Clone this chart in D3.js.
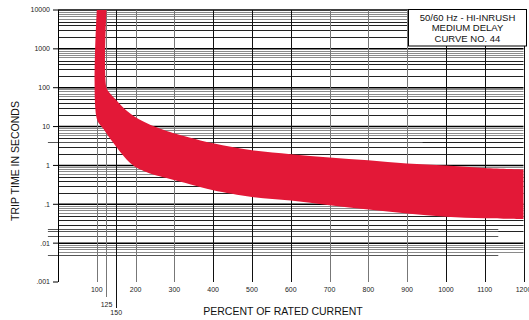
<!DOCTYPE html>
<html>
<head>
<title>Trip Curve 44</title>
<script src="https://d3js.org/d3.v7.min.js"></script>
<style>
  body { margin: 0; background: #fff; }
  svg { display: block; font-family: "Liberation Sans", Arial, sans-serif; }
</style>
</head>
<body>
<svg id="chart" width="529" height="320"></svg>
<script>
// ticks along the bottom (percent of rated current)
var xTicks = [100, 125, 150, 200, 300, 400, 500, 600, 700, 800, 900, 1000, 1100, 1200];
// decades on the left (seconds)
var yTicks = [10000, 1000, 100, 10, 1, 0.1, 0.01, 0.001];
var yTickLabels = ["10000", "1000", "100", "10", "1", ".1", ".01", ".001"];

// upper edge of the band = max trip time
var maxPct = [125, 125, 135, 147, 168, 194, 224, 254, 289, 319, 400, 500, 600, 700, 800, 900, 1000, 1100, 1200];
var maxSec = [10000, 100, 70, 52, 31, 19, 13, 9.6, 7.2, 5.9, 3.7, 2.45, 1.95, 1.6, 1.35, 1.12, 1.0, 0.86, 0.79];

// lower edge of the band = min trip time
var minPct = [100, 100, 117, 134, 151, 168, 186, 203, 229, 254, 289, 340, 400, 500, 600, 700, 800, 900, 1000, 1100, 1200];
var minSec = [10000, 16, 8.8, 4.9, 2.95, 1.8, 1.15, 0.87, 0.67, 0.55, 0.45, 0.33, 0.23, 0.155, 0.125, 0.095, 0.073, 0.058, 0.048, 0.044, 0.042];

// odd extra rules on the printed grid (value, from %, to %)
var extraRuleSec = [4, 0.023, 0.02, 0.015, 0.005];
var extraRuleFrom = [-26, -26, -26, -26, -26];
var extraRuleTo = [940, 1135, 1135, 1135, 1135];

var titleLines = ["50/60 Hz - HI-INRUSH", "MEDIUM DELAY", "CURVE NO. 44"];

var svg = d3.select("#chart");

var x = d3.scaleLinear().domain([0, 1200]).range([58, 523.5]);
var y = d3.scaleLog().domain([0.001, 10000]).range([282, 10]);

function isDecade(t) {
   var l = Math.log10(t);
   return Math.abs(l - Math.round(l)) < 1e-9;
}

// ==== horizontal grid ==== //
var minors = y.ticks().filter(function(t) { return t >= 0.0059 && t < 10000 && !isDecade(t); });

svg.append("g")
   .selectAll("line")
   .data(minors)
   .enter()
   .append("line")
   .attr("x1", x(0)).attr("x2", x(1200))
   .attr("y1", function(d) { return Math.round(y(d)) + 0.5; })
   .attr("y2", function(d) { return Math.round(y(d)) + 0.5; })
   .attr("stroke", function(d) {
      var m = Math.round(d / Math.pow(10, Math.floor(Math.log10(d) + 1e-9)));
      return m >= 6 ? "#8a8a8a" : "#222";
   })
   .attr("stroke-width", 1);

svg.append("g")
   .selectAll("line")
   .data(extraRuleSec)
   .enter()
   .append("line")
   .attr("x1", function(d, i) { return x(extraRuleFrom[i]); })
   .attr("x2", function(d, i) { return x(extraRuleTo[i]); })
   .attr("y1", function(d) { return Math.round(y(d)) + 0.5; })
   .attr("y2", function(d) { return Math.round(y(d)) + 0.5; })
   .attr("stroke", "#555")
   .attr("stroke-width", 1);

svg.append("g")
   .selectAll("line")
   .data(yTicks.filter(function(t) { return t > 0.001; }))
   .enter()
   .append("line")
   .attr("x1", x(0)).attr("x2", x(1200))
   .attr("y1", function(d) { return y(d); })
   .attr("y2", function(d) { return y(d); })
   .attr("stroke", "#000")
   .attr("stroke-width", 1.5);

// ==== vertical grid ==== //
var darkX = [150, 400, 500, 600, 1000, 1100, 1200];
var dropRow = {125: 1, 150: 2};

svg.append("g")
   .selectAll("line")
   .data(xTicks)
   .enter()
   .append("line")
   .attr("x1", function(d) { return Math.round(x(d)) + 0.5; })
   .attr("x2", function(d) { return Math.round(x(d)) + 0.5; })
   .attr("y1", y(10000))
   .attr("y2", function(d) { return y(0.001) + [0, 15, 26][dropRow[d] || 0]; })
   .attr("stroke", function(d) { return darkX.indexOf(d) >= 0 ? "#111" : "#777"; })
   .attr("stroke-width", 1);

svg.append("g")
   .selectAll("text")
   .data(xTicks)
   .enter()
   .append("text")
   .attr("x", function(d) { return x(d); })
   .attr("y", function(d) { return y(0.001) + [9.5, 24.5, 32.5][dropRow[d] || 0]; })
   .attr("text-anchor", "middle")
   .style("font-size", "7px")
   .attr("fill", "#222")
   .text(function(d) { return d; });

// ==== left axis ==== //
svg.append("line")
   .attr("x1", x(0) + 0.5).attr("x2", x(0) + 0.5)
   .attr("y1", y(10000)).attr("y2", y(0.001))
   .attr("stroke", "#000");

svg.append("g")
   .selectAll("line")
   .data(yTicks)
   .enter()
   .append("line")
   .attr("x1", x(0) - 5).attr("x2", x(0))
   .attr("y1", function(d) { return y(d); })
   .attr("y2", function(d) { return y(d); })
   .attr("stroke", "#000");

svg.append("g")
   .selectAll("text")
   .data(yTicks)
   .enter()
   .append("text")
   .attr("x", x(0) - 8)
   .attr("y", function(d) { return y(d); })
   .attr("dy", "0.35em")
   .attr("text-anchor", "end")
   .style("font-size", "7px")
   .attr("fill", "#222")
   .text(function(d, i) { return yTickLabels[i]; });

// ==== trip band ==== //
var edge = d3.line()
   .x(function(d) { return x(d[0]); })
   .y(function(d) { return y(d[1]); })
   .curve(d3.curveCatmullRom.alpha(0.5));

var upper = maxPct.map(function(p, i) { return [p, maxSec[i]]; });
var lower = minPct.map(function(p, i) { return [p, minSec[i]]; }).reverse();

svg.append("path")
   .attr("d", edge(upper) + "L" + edge(lower).slice(1) + "Z")
   .attr("fill", "#e31837");

// ==== title box ==== //
svg.append("rect")
   .attr("x", 408.5).attr("y", 9.5)
   .attr("width", 118).attr("height", 36.5)
   .attr("fill", "#fff")
   .attr("stroke", "#000");

svg.append("g")
   .selectAll("text")
   .data(titleLines)
   .enter()
   .append("text")
   .attr("x", 467.5)
   .attr("y", function(d, i) { return 20.5 + i * 10.5; })
   .attr("text-anchor", "middle")
   .style("font-size", "9.5px")
   .attr("fill", "#111")
   .text(function(d) { return d; });

// ==== axis titles ==== //
svg.append("text")
   .attr("transform", "translate(18.5,161) rotate(-90)")
   .attr("text-anchor", "middle")
   .style("font-size", "10.5px")
   .attr("fill", "#111")
   .text("TRIP TIME IN SECONDS");

svg.append("text")
   .attr("x", 283)
   .attr("y", 315)
   .attr("text-anchor", "middle")
   .style("font-size", "10.5px")
   .attr("fill", "#111")
   .text("PERCENT OF RATED CURRENT");
</script>
</body>
</html>
